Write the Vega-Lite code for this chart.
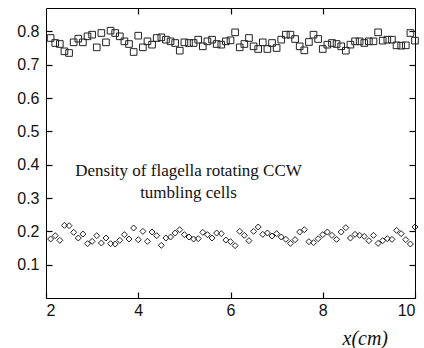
{
  "$schema": "https://vega.github.io/schema/vega-lite/v6.json",
  "width": 369,
  "height": 290,
  "autosize": {"type": "none"},
  "padding": {"left": 46, "top": 8, "right": 9, "bottom": 50},
  "background": "white",
  "config": {
    "view": {"stroke": "#000", "strokeWidth": 1},
    "axis": {
      "grid": false,
      "domain": false,
      "offset": -6,
      "ticks": true,
      "tickColor": "#000",
      "tickOpacity": 1,
      "tickSize": 6,
      "tickWidth": 1.2,
      "zindex": 1,
      "labelFont": "Liberation Sans",
      "labelFontSize": 16,
      "labelColor": "#111",
      "titleFont": "Liberation Serif",
      "titleFontWeight": "normal",
      "titleColor": "#111"
    }
  },
  "datasets": {
    "sq": [
      {"x": 2.1, "y": 0.78}, {"x": 2.2, "y": 0.765}, {"x": 2.3, "y": 0.762}, {"x": 2.4, "y": 0.74}, {"x": 2.5, "y": 0.735},
      {"x": 2.6, "y": 0.767}, {"x": 2.7, "y": 0.778}, {"x": 2.8, "y": 0.767}, {"x": 2.9, "y": 0.785}, {"x": 3.0, "y": 0.79},
      {"x": 3.1, "y": 0.752}, {"x": 3.2, "y": 0.795}, {"x": 3.3, "y": 0.767}, {"x": 3.4, "y": 0.802}, {"x": 3.5, "y": 0.795},
      {"x": 3.6, "y": 0.785}, {"x": 3.7, "y": 0.77}, {"x": 3.8, "y": 0.762}, {"x": 3.9, "y": 0.738}, {"x": 4.0, "y": 0.787},
      {"x": 4.1, "y": 0.752}, {"x": 4.2, "y": 0.77}, {"x": 4.3, "y": 0.76}, {"x": 4.4, "y": 0.78}, {"x": 4.5, "y": 0.782},
      {"x": 4.6, "y": 0.775}, {"x": 4.7, "y": 0.77}, {"x": 4.8, "y": 0.765}, {"x": 4.9, "y": 0.742}, {"x": 5.0, "y": 0.767},
      {"x": 5.1, "y": 0.765}, {"x": 5.2, "y": 0.765}, {"x": 5.3, "y": 0.775}, {"x": 5.4, "y": 0.755}, {"x": 5.5, "y": 0.77},
      {"x": 5.6, "y": 0.775}, {"x": 5.7, "y": 0.762}, {"x": 5.8, "y": 0.76}, {"x": 5.9, "y": 0.77}, {"x": 6.0, "y": 0.773},
      {"x": 6.1, "y": 0.797}, {"x": 6.2, "y": 0.752}, {"x": 6.3, "y": 0.762}, {"x": 6.4, "y": 0.78}, {"x": 6.5, "y": 0.755},
      {"x": 6.6, "y": 0.747}, {"x": 6.7, "y": 0.767}, {"x": 6.8, "y": 0.747}, {"x": 6.9, "y": 0.765}, {"x": 7.0, "y": 0.75},
      {"x": 7.1, "y": 0.775}, {"x": 7.2, "y": 0.79}, {"x": 7.3, "y": 0.79}, {"x": 7.4, "y": 0.777}, {"x": 7.5, "y": 0.755},
      {"x": 7.6, "y": 0.743}, {"x": 7.7, "y": 0.768}, {"x": 7.8, "y": 0.79}, {"x": 7.9, "y": 0.777}, {"x": 8.0, "y": 0.747},
      {"x": 8.1, "y": 0.76}, {"x": 8.2, "y": 0.765}, {"x": 8.3, "y": 0.762}, {"x": 8.4, "y": 0.755}, {"x": 8.5, "y": 0.742},
      {"x": 8.6, "y": 0.76}, {"x": 8.7, "y": 0.77}, {"x": 8.8, "y": 0.77}, {"x": 8.9, "y": 0.765}, {"x": 9.0, "y": 0.77},
      {"x": 9.1, "y": 0.77}, {"x": 9.2, "y": 0.797}, {"x": 9.3, "y": 0.772}, {"x": 9.4, "y": 0.775}, {"x": 9.5, "y": 0.775},
      {"x": 9.6, "y": 0.758}, {"x": 9.7, "y": 0.757}, {"x": 9.8, "y": 0.758}, {"x": 9.9, "y": 0.795}, {"x": 10.0, "y": 0.772}
    ],
    "di": [
      {"x": 2.1, "y": 0.177}, {"x": 2.2, "y": 0.187}, {"x": 2.3, "y": 0.173}, {"x": 2.4, "y": 0.218}, {"x": 2.5, "y": 0.217},
      {"x": 2.6, "y": 0.197}, {"x": 2.7, "y": 0.18}, {"x": 2.8, "y": 0.192}, {"x": 2.9, "y": 0.163}, {"x": 3.0, "y": 0.17},
      {"x": 3.1, "y": 0.187}, {"x": 3.2, "y": 0.165}, {"x": 3.3, "y": 0.18}, {"x": 3.4, "y": 0.163}, {"x": 3.5, "y": 0.162},
      {"x": 3.6, "y": 0.173}, {"x": 3.7, "y": 0.19}, {"x": 3.8, "y": 0.177}, {"x": 3.9, "y": 0.21}, {"x": 4.0, "y": 0.175},
      {"x": 4.1, "y": 0.2}, {"x": 4.2, "y": 0.17}, {"x": 4.3, "y": 0.198}, {"x": 4.4, "y": 0.187}, {"x": 4.5, "y": 0.158},
      {"x": 4.6, "y": 0.18}, {"x": 4.7, "y": 0.183}, {"x": 4.8, "y": 0.195}, {"x": 4.9, "y": 0.205}, {"x": 5.0, "y": 0.19},
      {"x": 5.1, "y": 0.183}, {"x": 5.2, "y": 0.177}, {"x": 5.3, "y": 0.178}, {"x": 5.4, "y": 0.197}, {"x": 5.5, "y": 0.19},
      {"x": 5.6, "y": 0.18}, {"x": 5.7, "y": 0.195}, {"x": 5.8, "y": 0.193}, {"x": 5.9, "y": 0.174}, {"x": 6.0, "y": 0.169},
      {"x": 6.1, "y": 0.157}, {"x": 6.2, "y": 0.2}, {"x": 6.3, "y": 0.188}, {"x": 6.4, "y": 0.172}, {"x": 6.5, "y": 0.2},
      {"x": 6.6, "y": 0.213}, {"x": 6.7, "y": 0.191}, {"x": 6.8, "y": 0.195}, {"x": 6.9, "y": 0.186}, {"x": 7.0, "y": 0.193},
      {"x": 7.1, "y": 0.183}, {"x": 7.2, "y": 0.176}, {"x": 7.3, "y": 0.164}, {"x": 7.4, "y": 0.175}, {"x": 7.5, "y": 0.198},
      {"x": 7.6, "y": 0.205}, {"x": 7.7, "y": 0.169}, {"x": 7.8, "y": 0.166}, {"x": 7.9, "y": 0.178}, {"x": 8.0, "y": 0.19},
      {"x": 8.1, "y": 0.198}, {"x": 8.2, "y": 0.188}, {"x": 8.3, "y": 0.176}, {"x": 8.4, "y": 0.198}, {"x": 8.5, "y": 0.211},
      {"x": 8.6, "y": 0.18}, {"x": 8.7, "y": 0.191}, {"x": 8.8, "y": 0.188}, {"x": 8.9, "y": 0.185}, {"x": 9.0, "y": 0.172},
      {"x": 9.1, "y": 0.188}, {"x": 9.2, "y": 0.164}, {"x": 9.3, "y": 0.172}, {"x": 9.4, "y": 0.178}, {"x": 9.5, "y": 0.176},
      {"x": 9.6, "y": 0.203}, {"x": 9.7, "y": 0.193}, {"x": 9.8, "y": 0.175}, {"x": 9.9, "y": 0.162}, {"x": 10.0, "y": 0.213}
    ],
    "notes": [
      {"x": 5.09, "y": 0.38, "t": "Density of flagella rotating CCW"},
      {"x": 5.09, "y": 0.316, "t": "tumbling cells"}
    ]
  },
  "layer": [
    {
      "data": {"name": "sq"},
      "mark": {"type": "point", "shape": "square", "filled": false, "size": 44, "stroke": "#222", "strokeWidth": 1, "opacity": 1, "clip": false},
      "encoding": {
        "x": {"field": "x", "type": "quantitative", "scale": {"domain": [2, 10], "nice": false, "zero": false},
              "axis": {"orient": "bottom", "values": [2, 4, 6, 8, 10], "labelPadding": 4, "title": "x(cm)",
                       "titleFontStyle": "italic", "titleFontSize": 20, "titleAnchor": "start", "titleAlign": "left",
                       "titleX": 296, "titleY": 36}},
        "y": {"field": "y", "type": "quantitative", "scale": {"domain": [0, 0.87], "nice": false, "zero": false},
              "axis": {"orient": "left", "values": [0.1, 0.2, 0.3, 0.4, 0.5, 0.6, 0.7, 0.8], "format": ".1f", "labelPadding": 7, "title": null}}
      }
    },
    {
      "data": {"name": "di"},
      "mark": {"type": "point", "shape": "diamond", "filled": false, "size": 36, "stroke": "#222", "strokeWidth": 1, "opacity": 1, "clip": false},
      "encoding": {
        "x": {"field": "x", "type": "quantitative", "axis": null},
        "y": {"field": "y", "type": "quantitative", "axis": null}
      }
    },
    {
      "data": {"name": "notes"},
      "mark": {"type": "text", "font": "Liberation Serif", "fontSize": 17, "color": "#111", "align": "center", "baseline": "middle"},
      "encoding": {
        "x": {"field": "x", "type": "quantitative",
              "axis": {"orient": "top", "values": [4, 6, 8], "labels": false, "title": null}},
        "y": {"field": "y", "type": "quantitative",
              "axis": {"orient": "right", "values": [0.1, 0.2, 0.3, 0.4, 0.5, 0.6, 0.7, 0.8], "labels": false, "title": null}},
        "text": {"field": "t"}
      }
    }
  ]
}
